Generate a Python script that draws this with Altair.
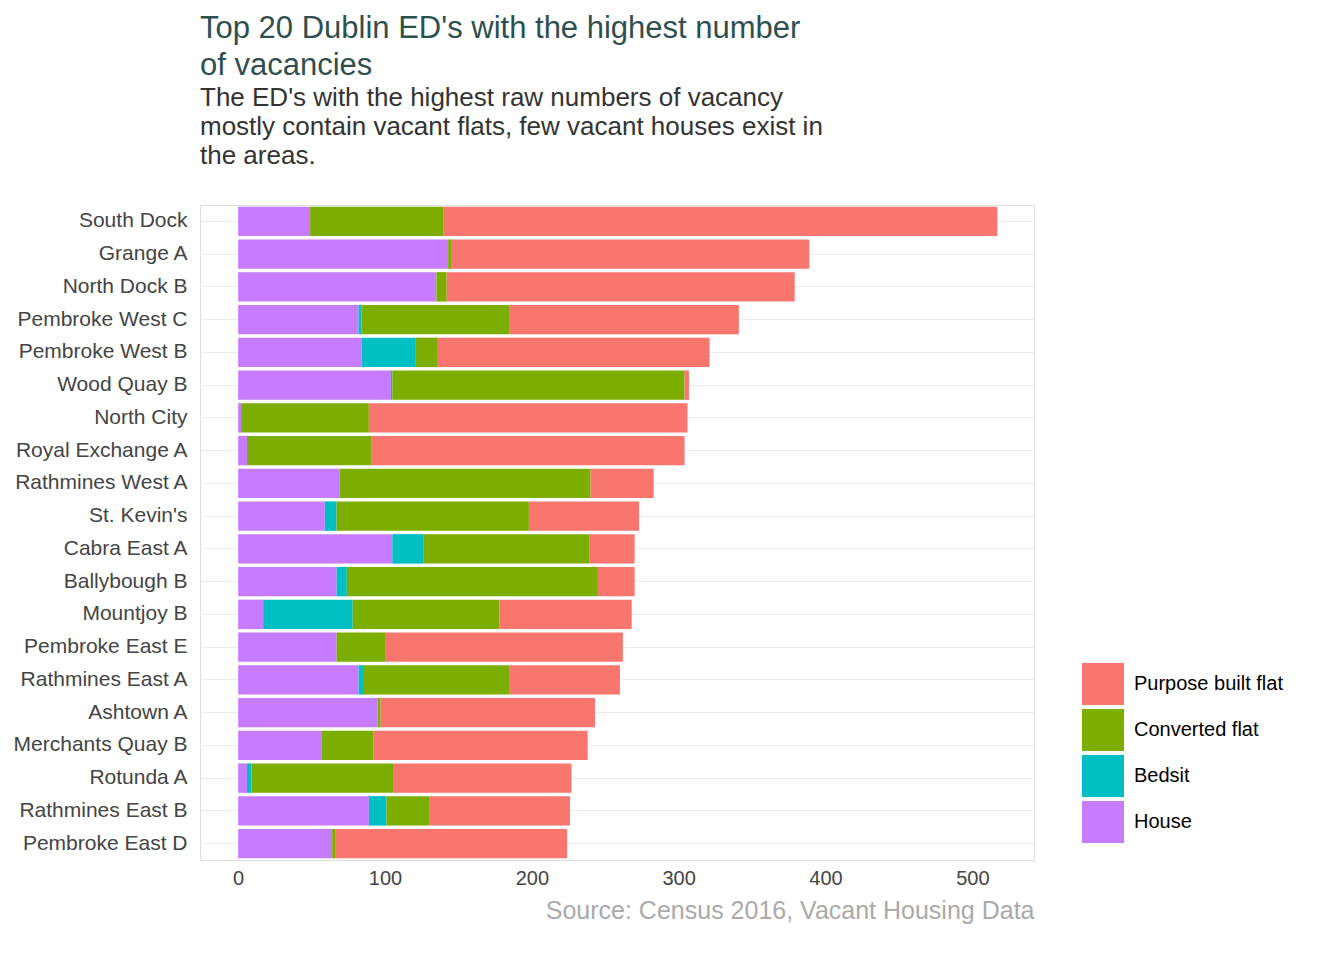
import altair as alt
import pandas as pd

eds = ["South Dock","Grange A","North Dock B","Pembroke West C","Pembroke West B","Wood Quay B",
       "North City","Royal Exchange A","Rathmines West A","St. Kevin's","Cabra East A","Ballybough B",
       "Mountjoy B","Pembroke East E","Rathmines East A","Ashtown A","Merchants Quay B","Rotunda A",
       "Rathmines East B","Pembroke East D"]
house =     [49,143,135,82,84,104,2,6,69,59,105,67,17,67,82,95,57,6,89,64]
bedsit =    [0,0,0,2,37,1,0,0,0,8,21,7,61,0,3,0,0,3,12,0]
converted = [91,2,7,101,15,199,87,85,171,131,113,171,100,33,100,2,35,97,29,2]
purpose =   [377,244,237,156,185,3,217,213,43,75,31,25,90,162,75,146,146,121,96,158]

types = ["Purpose built flat","Converted flat","Bedsit","House"]
colors = ["#F8766D","#7CAE00","#00BFC4","#C77CFF"]
rows = []
for i, e in enumerate(eds):
    for t, v, o in [("House", house[i], 0), ("Bedsit", bedsit[i], 1),
                    ("Converted flat", converted[i], 2), ("Purpose built flat", purpose[i], 3)]:
        rows.append({"ED": e, "type": t, "value": v, "ord": o})
df = pd.DataFrame(rows)

chart = alt.Chart(df).mark_bar().encode(
    y=alt.Y("ED:N", sort=eds, title=None,
            scale=alt.Scale(paddingInner=0.1, paddingOuter=0.05),
            axis=alt.Axis(labelFontSize=21, labelColor="#444", ticks=False, domain=False,
                          grid=True, gridColor="#EBEBEB", labelPadding=13)),
    x=alt.X("value:Q", stack="zero", title="Source: Census 2016, Vacant Housing Data",
            scale=alt.Scale(domain=[-26, 542], nice=False),
            axis=alt.Axis(values=[0,100,200,300,400,500], grid=False, ticks=False, domain=False,
                          labelFontSize=20, labelColor="#444", titleAnchor="end", titleAlign="right",
                          titleFontSize=25, titleColor="#AAAAAA", titleFontWeight="normal",
                          titlePadding=10, labelPadding=8)),
    color=alt.Color("type:N", scale=alt.Scale(domain=types, range=colors), title=None,
                    legend=alt.Legend(orient="none", legendX=882, legendY=458, symbolType="square",
                                      symbolSize=1764, symbolStrokeWidth=0, labelFontSize=20,
                                      labelColor="#000", rowPadding=4, labelOffset=10, symbolOpacity=1)),
    order=alt.Order("ord:Q"),
).properties(
    width=834, height=655,
    title=alt.TitleParams(
        text=["Top 20 Dublin ED's with the highest number", "of vacancies"],
        subtitle=["The ED's with the highest raw numbers of vacancy",
                  "mostly contain vacant flats, few vacant houses exist in", "the areas."],
        anchor="start", fontSize=31, fontWeight="normal", color="#2F4F4F", lineHeight=37,
        subtitleFontSize=26, subtitleColor="#333", subtitleLineHeight=29, offset=35, frame="group"),
).configure_view(strokeWidth=0, stroke=None).configure(font="Liberation Sans")

chart.save("out.html", embed_options={"renderer": "svg", "actions": False})
